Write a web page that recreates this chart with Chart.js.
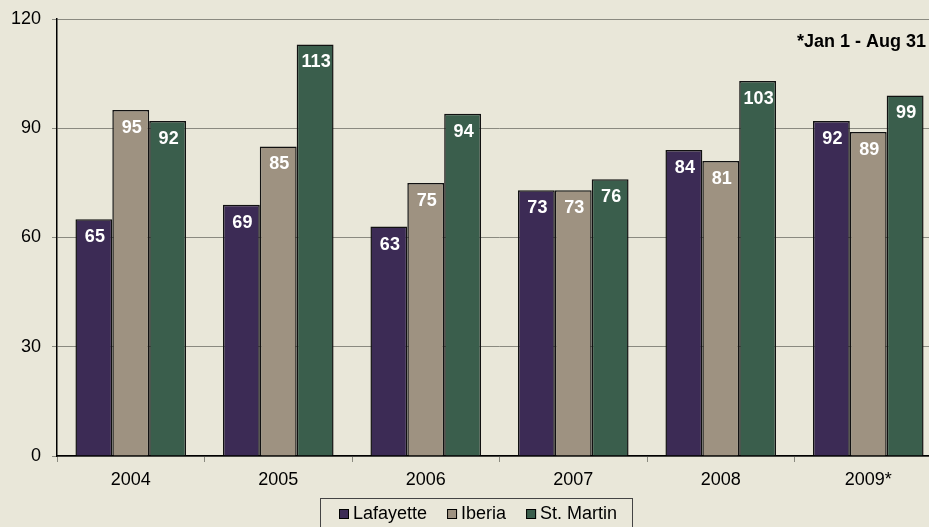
<!DOCTYPE html>
<html>
<head>
<meta charset="utf-8">
<script src="https://cdn.jsdelivr.net/npm/chart.js@4"></script>
<style>
  html, body { margin:0; padding:0; background:#e9e7d9; overflow:hidden; }
  #wrap { width:942px; height:527px; }
</style>
</head>
<body>
<div id="wrap"><canvas id="c" width="942" height="527"></canvas></div>
<script>
const categories = ["2004", "2005", "2006", "2007", "2008", "2009*"];
const seriesNames = ["Lafayette", "Iberia", "St. Martin"];
const lafayette = [65, 69, 63, 73, 84, 92];
const iberia = [95, 85, 75, 73, 81, 89];
const stMartin = [92, 113, 94, 76, 103, 99];
const yTicks = [0, 30, 60, 90, 120];
const note = "*Jan 1 - Aug 31";
const colors = ["#3c2b55", "#9e9281", "#3a5e4c"];

const FONT = "'Liberation Sans', Arial, sans-serif";

const overlay = {
  id: 'overlay',
  afterDatasetsDraw(chart) {
    const ctx = chart.ctx;
    ctx.save();
    ctx.fillStyle = '#ffffff';
    ctx.font = "bold 18px " + FONT;
    ctx.textAlign = 'center';
    ctx.textBaseline = 'middle';
    chart.data.datasets.forEach((ds, i) => {
      const meta = chart.getDatasetMeta(i);
      meta.data.forEach((bar, j) => {
        ctx.fillText(String(ds.data[j]), bar.x + 1, bar.y + 18);
      });
    });
    ctx.restore();
  },
  afterDraw(chart) {
    const ctx = chart.ctx;
    ctx.save();
    ctx.fillStyle = '#000';
    ctx.font = "bold 18px " + FONT;
    ctx.textAlign = 'right';
    ctx.textBaseline = 'middle';
    ctx.fillText(note, 926, 42);
    // legend
    ctx.font = "18px " + FONT;
    const box = 10, gapBox = 4, gapItem = 20;
    const widths = seriesNames.map(n => ctx.measureText(n).width);
    const total = widths.reduce((a, b) => a + b, 0) + seriesNames.length * (box + gapBox) + gapItem * (seriesNames.length - 1);
    const cx = 478;
    let x = Math.round(cx - total / 2);
    const cy = 514;
    ctx.strokeStyle = '#444';
    ctx.lineWidth = 1;
    ctx.strokeRect(320.5, 498.5, 312, 40);
    ctx.textAlign = 'left';
    seriesNames.forEach((n, i) => {
      ctx.fillStyle = colors[i];
      ctx.fillRect(x, cy - 5, box, box);
      ctx.strokeStyle = '#000';
      ctx.strokeRect(x + 0.5, cy - 4.5, box - 1, box - 1);
      ctx.fillStyle = '#000';
      ctx.fillText(n, x + box + gapBox, cy);
      x += box + gapBox + widths[i] + gapItem;
    });
    ctx.restore();
  }
};

new Chart(document.getElementById('c'), {
  type: 'bar',
  data: {
    labels: categories,
    datasets: [
      { label: seriesNames[0], data: lafayette, backgroundColor: colors[0] },
      { label: seriesNames[1], data: iberia, backgroundColor: colors[1] },
      { label: seriesNames[2], data: stMartin, backgroundColor: colors[2] }
    ].map(d => Object.assign(d, { borderColor: '#111', borderWidth: 1.5, categoryPercentage: 0.75, barPercentage: 1.0 }))
  },
  options: {
    responsive: false,
    animation: false,
    devicePixelRatio: 1,
    layout: { padding: { top: 19, left: 0, right: 0, bottom: 0 } },
    plugins: { legend: { display: false }, tooltip: { enabled: false } },
    scales: {
      x: {
        grid: { display: true, drawOnChartArea: false, drawTicks: true, tickLength: 6, color: '#8a8a80', offset: true },
        border: { display: true, color: '#000', width: 1.5 },
        ticks: { color: '#000', font: { size: 18, family: FONT }, padding: 7, maxRotation: 0 },
        afterFit(s) { s.height = 71; s.paddingLeft = 0; s.paddingRight = 0; }
      },
      y: {
        min: 0, max: 120,
        afterBuildTicks(s) { s.ticks = yTicks.map(v => ({ value: v })); },
        grid: { color: '#8a8a80', lineWidth: 1, tickLength: 5 },
        border: { display: true, color: '#000', width: 1.5 },
        ticks: { color: '#000', font: { size: 18, family: FONT }, padding: 11 },
        afterFit(s) { s.width = 57; s.paddingTop = 0; s.paddingBottom = 0; }
      }
    }
  },
  plugins: [overlay]
});
</script>
</body>
</html>
